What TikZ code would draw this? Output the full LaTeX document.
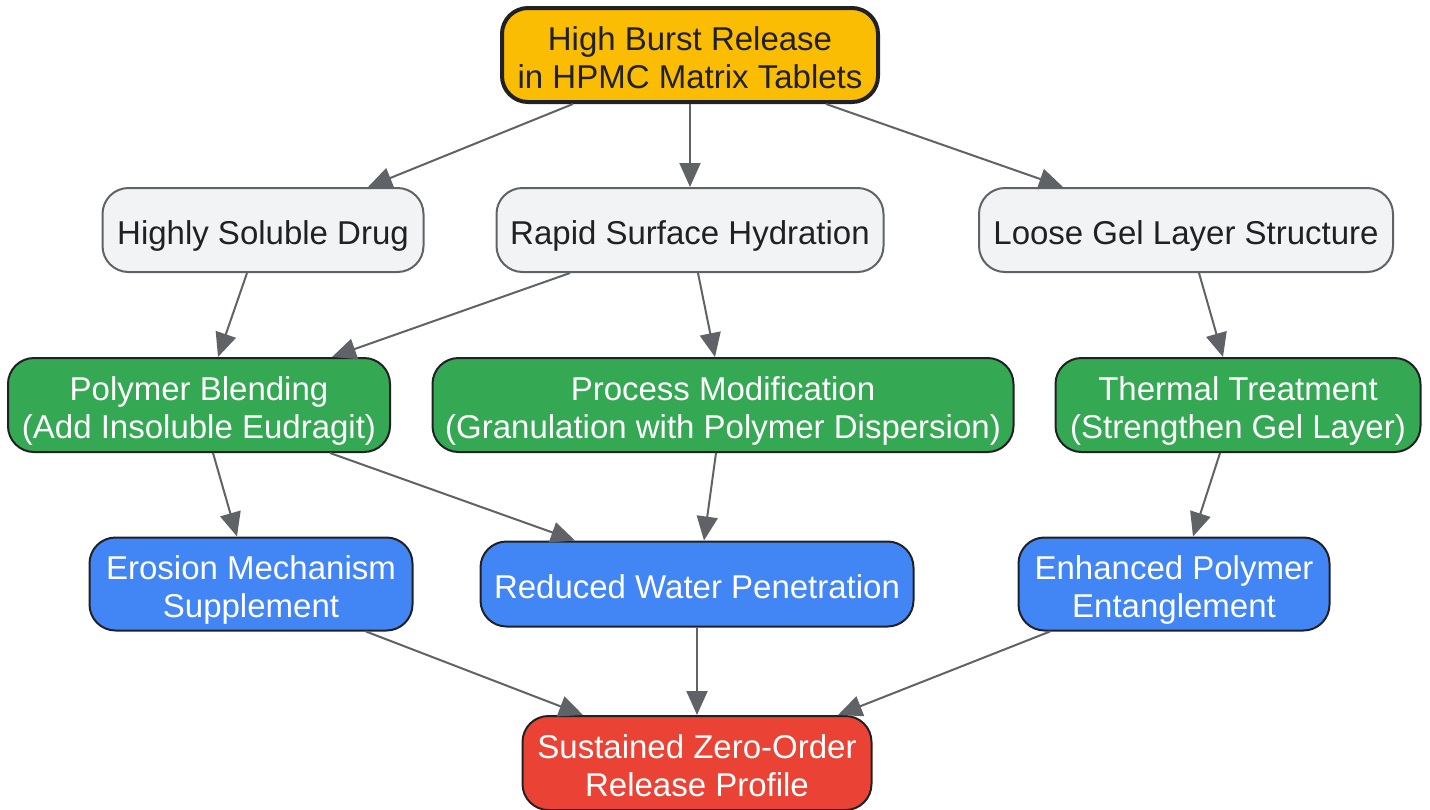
\documentclass[tikz,border=0pt]{standalone}
\usepackage{fontspec}
\setmainfont{Liberation Sans}
\usetikzlibrary{arrows.meta}
\definecolor{cyel}{HTML}{FBBC04}
\definecolor{cgrn}{HTML}{34A853}
\definecolor{cblu}{HTML}{4285F4}
\definecolor{cred}{HTML}{EA4335}
\definecolor{cgry}{HTML}{F1F3F4}
\definecolor{cedge}{HTML}{5F6368}
\definecolor{cdark}{HTML}{202124}
\newcommand{\boxtxt}[1]{\raisebox{-7pt}[\height][\depth]{\begin{tabular}{@{}c@{}}#1\end{tabular}}}
\begin{document}
\begin{tikzpicture}[x=1pt,y=-1pt,
  base/.style={rectangle, rounded corners=26pt, inner sep=0pt,
    font=\fontsize{33pt}{38pt}\selectfont, line width=2pt},
  graybox/.style={base, fill=cgry, draw=cedge, text=cdark},
  topbox/.style={base, fill=cyel, draw=cdark, text=cdark, line width=4pt},
  greenbox/.style={base, fill=cgrn, draw=cdark, text=white},
  bluebox/.style={base, fill=cblu, draw=cdark, text=white},
  redbox/.style={base, fill=cred, draw=cdark, text=white},
  arr/.style={draw=cedge, line width=2pt, -{Triangle[length=24pt,width=21pt]}}
]
\useasboundingbox (0,0) rectangle (1430,809);

\node[topbox, minimum width=376pt, minimum height=94pt] (top) at (690,55) {\boxtxt{High Burst Release\\in HPMC Matrix Tablets}};

\node[graybox, minimum width=321pt, minimum height=84pt] (hsd) at (263,230) {\boxtxt{Highly Soluble Drug}};
\node[graybox, minimum width=387pt, minimum height=84pt] (rsh) at (690,230) {\boxtxt{Rapid Surface Hydration}};
\node[graybox, minimum width=414pt, minimum height=84pt] (lgl) at (1186,230) {\boxtxt{Loose Gel Layer Structure}};

\node[greenbox, minimum width=382pt, minimum height=94pt] (pb) at (199,405) {\boxtxt{Polymer Blending\\(Add Insoluble Eudragit)}};
\node[greenbox, minimum width=581pt, minimum height=94pt] (pm) at (723,405) {\boxtxt{Process Modification\\(Granulation with Polymer Dispersion)}};
\node[greenbox, minimum width=365pt, minimum height=94pt] (tt) at (1238,405) {\boxtxt{Thermal Treatment\\(Strengthen Gel Layer)}};

\node[bluebox, minimum width=323pt, minimum height=93pt] (er) at (251,584) {\boxtxt{Erosion Mechanism\\Supplement}};
\node[bluebox, minimum width=433pt, minimum height=85pt] (rw) at (697,584) {\boxtxt{Reduced Water Penetration}};
\node[bluebox, minimum width=311pt, minimum height=93pt] (en) at (1174,584) {\boxtxt{Enhanced Polymer\\Entanglement}};

\node[redbox, minimum width=349pt, minimum height=94pt] (su) at (697,763) {\boxtxt{Sustained Zero-Order\\Release Profile}};

\draw[arr] ([xshift=-117pt]top.south) -- ([xshift=105pt]hsd.north);
\draw[arr] (top.south) -- (rsh.north);
\draw[arr] ([xshift=136pt]top.south) -- ([xshift=-123pt]lgl.north);

\draw[arr] ([xshift=-16pt]hsd.south) -- ([xshift=19pt]pb.north);
\draw[arr] ([xshift=-120pt]rsh.south) -- ([xshift=133pt]pb.north);
\draw[arr] ([xshift=8pt]rsh.south) -- ([xshift=-8pt]pm.north);
\draw[arr] ([xshift=13pt]lgl.south) -- ([xshift=-15pt]tt.north);

\draw[arr] ([xshift=14pt]pb.south) -- ([xshift=-14pt]er.north);
\draw[arr] ([xshift=131pt]pb.south) -- ([xshift=-122pt]rw.north);
\draw[arr] ([xshift=-7pt]pm.south) -- ([xshift=7pt]rw.north);
\draw[arr] ([xshift=-18pt]tt.south) -- ([xshift=19pt]en.north);

\draw[arr] ([xshift=115pt]er.south) -- ([xshift=-114pt]su.north);
\draw[arr] (rw.south) -- (su.north);
\draw[arr] ([xshift=-124pt]en.south) -- ([xshift=141pt]su.north);
\end{tikzpicture}
\end{document}
